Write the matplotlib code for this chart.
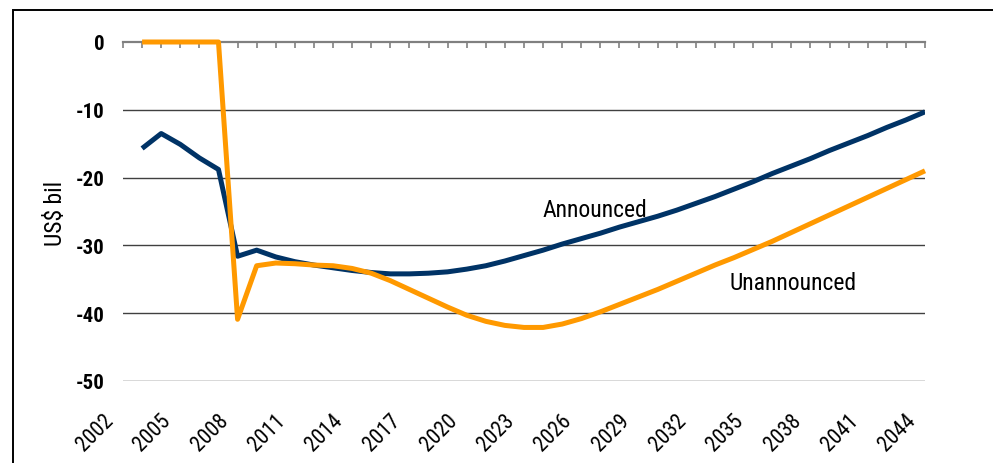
import matplotlib
matplotlib.use("Agg")
import matplotlib.pyplot as plt
from matplotlib import font_manager
from matplotlib.patches import Rectangle
from matplotlib.ticker import MultipleLocator
from matplotlib.transforms import ScaledTranslation

entries = font_manager.fontManager.ttflist
names = {f.name for f in entries}
FONT, STRETCH, CONDENSED = "Liberation Sans", "normal", False
for cand in ["Liberation Sans Narrow", "Arial Narrow", "Roboto Condensed",
             "Open Sans Condensed", "Noto Sans Condensed", "DejaVu Sans Condensed"]:
    if cand in names:
        FONT, CONDENSED = cand, True
        break
else:
    for f in entries:
        if f.stretch in ("condensed", "semi-condensed", "extra-condensed") and \
                f.name in ("Roboto", "Noto Sans", "Open Sans", "DejaVu Sans"):
            FONT, STRETCH, CONDENSED = f.name, f.stretch, True
            break
plt.rcParams["font.family"] = [FONT, "DejaVu Sans"]
plt.rcParams["font.stretch"] = STRETCH

if CONDENSED:
    FS_Y, FS_X, FS_T = 15, 15.5, 17
else:
    FS_Y, FS_X, FS_T = 14, 13.5, 15

years = list(range(2003, 2045))
announced = [-15.7, -13.5, -15.1, -17.1, -18.8, -31.6, -30.7, -31.7, -32.4, -32.9,
             -33.3, -33.7, -34.0, -34.2, -34.2, -34.1, -33.9, -33.5, -33.0, -32.3,
             -31.5, -30.7, -29.8, -29.0, -28.2, -27.3, -26.5, -25.7, -24.8, -23.8,
             -22.8, -21.7, -20.6, -19.4, -18.3, -17.2, -16.0, -14.9, -13.8, -12.6,
             -11.5, -10.3]
unannounced = [0.0, 0.0, 0.0, 0.0, 0.0, -40.9, -33.0, -32.6, -32.7, -32.9,
               -33.0, -33.4, -34.1, -35.2, -36.5, -37.8, -39.1, -40.3, -41.2, -41.8,
               -42.1, -42.1, -41.6, -40.8, -39.8, -38.7, -37.6, -36.5, -35.3, -34.1,
               -32.9, -31.8, -30.6, -29.4, -28.1, -26.8, -25.5, -24.2, -22.9, -21.6,
               -20.3, -19.0]
x_labels = list(range(2002, 2045, 3))
y_ticks = [0, -10, -20, -30, -40, -50]

W, H = 993, 464
fig = plt.figure(figsize=(W / 100, H / 100), dpi=100)
ax = fig.add_axes([123 / W, 1 - 382 / H, (925 - 123) / W, (382 - 43) / H])

for yv in y_ticks[1:]:
    ax.axhline(yv, color="#404040", lw=1.0, zorder=1)

ax.plot(years, announced, color="#003366", lw=3.6, zorder=3, solid_joinstyle="round",
        solid_capstyle="butt")
ax.plot(years, unannounced, color="#FF9900", lw=3.6, zorder=4, clip_on=False,
        solid_joinstyle="round", solid_capstyle="butt")

ax.set_xlim(2002, 2044)
ax.set_ylim(-50, 0)
ax.set_yticks(y_ticks)
ax.set_yticklabels([str(v) for v in y_ticks], fontsize=FS_Y, fontweight="bold")
ax.tick_params(axis="y", length=0, pad=13)

ax.xaxis.set_minor_locator(MultipleLocator(1))
ax.set_xticks(x_labels)
ax.set_xticklabels([str(v) for v in x_labels], rotation=45, ha="right", va="top",
                   rotation_mode="anchor", fontsize=FS_X)
ax.tick_params(axis="x", which="both", bottom=False, top=True, direction="in",
               length=4, width=1.2, color="#808080", labelbottom=True, labeltop=False,
               pad=20.5)
shift = ScaledTranslation(-20 / 100, 0, fig.dpi_scale_trans)
for lab in ax.get_xticklabels():
    lab.set_transform(lab.get_transform() + shift)

for s in ["left", "right", "bottom"]:
    ax.spines[s].set_visible(False)
ax.spines["top"].set_color("#808080")
ax.spines["top"].set_linewidth(1.6)

ax.text(2026.7, -25.7, "Announced", fontsize=FS_T, ha="center", va="baseline")
ax.text(2037.1, -36.4, "Unannounced", fontsize=FS_T, ha="center", va="baseline")

fig.text(56 / W, 1 - 213 / H, "US$ bil", rotation=90, fontsize=FS_T,
         ha="center", va="center")

border_top = 1 - 11 / H
fig.patches.append(Rectangle((13 / W, -0.2), 1.2, border_top + 0.2, transform=fig.transFigure,
                             fill=False, edgecolor="black", lw=1.4, figure=fig))

fig.savefig("out.png", dpi=100)
